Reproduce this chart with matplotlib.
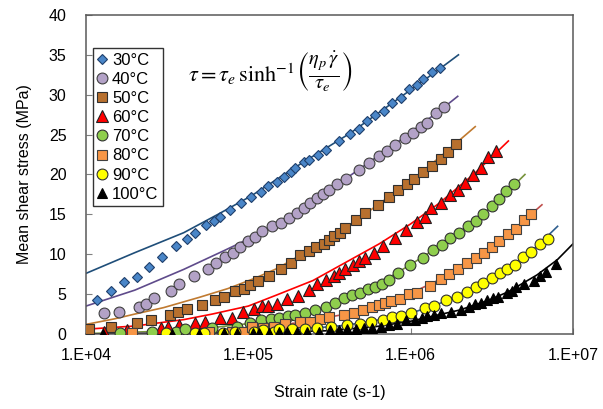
import matplotlib
matplotlib.use("Agg")
import matplotlib.pyplot as plt
from matplotlib.ticker import FixedLocator, NullLocator

plt.rcParams['font.family'] = ['Liberation Sans', 'DejaVu Sans']
plt.rcParams['mathtext.fontset'] = 'stix'

# measured points, strain rate (s-1) vs mean shear stress (MPa)
t30_x = [1.17e4, 1.42e4, 1.72e4, 2.07e4, 2.43e4, 2.96e4, 3.58e4, 4.19e4, 4.71e4, 5.48e4,
         6.11e4, 6.65e4, 7.74e4, 9.06e4, 1.04e5, 1.19e5, 1.33e5, 1.50e5, 1.65e5, 1.82e5,
         1.95e5, 2.19e5, 2.36e5, 2.68e5, 2.99e5, 3.61e5, 4.26e5, 4.80e5, 5.41e5, 6.03e5,
         6.85e5, 7.71e5, 8.67e5, 9.72e5, 1.09e6, 1.20e6, 1.36e6, 1.52e6]
t30_y = [4.3, 5.4, 6.5, 7.2, 8.4, 9.6, 11.0, 11.9, 12.6, 13.7,
         14.2, 14.7, 15.6, 16.4, 17.2, 17.8, 18.5, 19.1, 19.7, 20.3,
         20.8, 21.6, 21.8, 22.4, 23.1, 24.2, 25.1, 25.7, 26.7, 27.4,
         28.0, 28.9, 29.6, 30.7, 31.2, 32.0, 32.8, 33.4]

t40_x = [1.29e4, 1.60e4, 2.12e4, 2.33e4, 2.63e4, 3.35e4, 3.75e4, 4.66e4, 5.63e4, 6.31e4,
         7.14e4, 8.0e4, 8.93e4, 1.0e5, 1.10e5, 1.21e5, 1.40e5, 1.58e5, 1.77e5, 2.0e5,
         2.19e5, 2.41e5, 2.66e5, 2.87e5, 3.12e5, 3.5e5, 3.97e5, 4.8e5, 5.52e5, 6.36e5,
         7.16e5, 8.05e5, 9.2e5, 1.04e6, 1.16e6, 1.27e6, 1.44e6, 1.61e6]
t40_y = [2.6, 2.8, 3.35, 3.8, 4.5, 5.4, 6.3, 7.3, 8.1, 8.9,
         9.6, 10.2, 10.9, 11.6, 12.2, 12.9, 13.5, 13.9, 14.5, 15.2,
         15.8, 16.4, 17.0, 17.5, 18.1, 18.8, 19.4, 20.6, 21.4, 22.3,
         23.0, 23.7, 24.6, 25.2, 26.0, 26.4, 27.7, 28.4]

t50_x = [1.04e4, 1.42e4, 2.05e4, 2.51e4, 3.27e4, 3.68e4, 4.19e4, 5.18e4, 6.25e4, 7.04e4,
         8.32e4, 9.36e4, 1.03e5, 1.15e5, 1.35e5, 1.58e5, 1.84e5, 2.09e5, 2.36e5, 2.63e5,
         2.92e5, 3.13e5, 3.36e5, 3.66e5, 3.92e5, 4.58e5, 5.27e5, 6.32e5, 7.35e5, 8.35e5,
         9.45e5, 1.05e6, 1.20e6, 1.36e6, 1.53e6, 1.69e6, 1.90e6]
t50_y = [0.6, 0.9, 1.4, 1.8, 2.4, 2.8, 3.1, 3.6, 4.3, 4.6,
         5.4, 5.7, 6.2, 6.7, 7.3, 8.2, 8.9, 9.9, 10.4, 10.9,
         11.3, 11.8, 12.3, 12.7, 13.3, 14.3, 15.2, 16.2, 17.2, 18.1,
         18.8, 19.4, 20.3, 21.1, 22.0, 22.8, 23.8]

t60_x = [1.29e4, 1.8e4, 2.9e4, 3.18e4, 3.76e4, 4.7e4, 5.42e4, 6.7e4, 7.9e4, 9.27e4,
         1.08e5, 1.21e5, 1.32e5, 1.50e5, 1.73e5, 2.03e5, 2.36e5, 2.66e5, 2.99e5, 3.36e5,
         3.6e5, 3.92e5, 4.4e5, 4.8e5, 5.2e5, 5.93e5, 6.75e5, 8.0e5, 9.3e5, 1.09e6,
         1.22e6, 1.33e6, 1.53e6, 1.75e6, 1.95e6, 2.15e6, 2.42e6, 2.7e6, 3.0e6, 3.35e6]
t60_y = [0.3, 0.5, 0.7, 0.9, 1.1, 1.4, 1.55, 2.0, 2.05, 2.7,
         3.1, 3.5, 3.5, 3.8, 4.4, 4.8, 5.5, 6.3, 6.8, 7.3,
         7.7, 8.1, 8.7, 9.1, 9.5, 10.2, 11.0, 12.0, 13.0, 14.0,
         14.7, 15.8, 16.4, 17.4, 18.0, 18.9, 19.9, 20.8, 22.2, 22.9]

t70_x = [1.61e4, 2.54e4, 3.59e4, 4.08e4, 5.97e4, 8.51e4, 1.03e5, 1.19e5, 1.37e5, 1.54e5,
         1.75e5, 1.93e5, 2.22e5, 2.59e5, 2.99e5, 3.4e5, 3.86e5, 4.34e5, 4.9e5, 5.5e5,
         6.06e5, 6.66e5, 7.35e5, 8.4e5, 9.95e5, 1.2e6, 1.37e6, 1.57e6, 1.74e6, 1.98e6,
         2.26e6, 2.54e6, 2.8e6, 3.16e6, 3.5e6, 3.88e6, 4.35e6]
t70_y = [0.15, 0.3, 0.3, 0.6, 0.8, 0.9, 1.4, 1.8, 1.85, 2.0,
         2.2, 2.4, 2.6, 3.0, 3.4, 3.9, 4.5, 4.9, 5.1, 5.6,
         5.9, 6.3, 6.8, 7.6, 8.7, 9.5, 10.5, 11.2, 12.0, 12.7,
         13.5, 14.2, 15.0, 16.0, 16.9, 17.9, 18.8]

t80_x = [1.91e4, 5.69e4, 7.93e4, 9.36e4, 1.06e5, 1.24e5, 1.43e5, 1.69e5, 2.09e5, 2.41e5,
         2.75e5, 3.13e5, 3.86e5, 4.46e5, 5.1e5, 5.78e5, 6.36e5, 6.96e5, 7.55e5, 8.6e5,
         9.8e5, 1.1e6, 1.31e6, 1.53e6, 1.72e6, 1.96e6, 2.24e6, 2.53e6, 2.85e6, 3.17e6,
         3.52e6, 3.97e6, 4.43e6, 4.96e6, 5.55e6]
t80_y = [0.1, 0.2, 0.3, 0.3, 0.9, 0.8, 0.9, 1.2, 1.5, 1.55,
         1.85, 2.1, 2.4, 2.6, 3.0, 3.35, 3.6, 3.9, 4.1, 4.4,
         5.0, 5.1, 6.0, 6.9, 7.5, 8.1, 8.9, 9.5, 10.2, 10.9,
         11.7, 12.5, 13.2, 14.3, 15.0]

t90_x = [3.12e4, 4.71e4, 5.3e4, 6.98e4, 8.32e4, 1.08e5, 1.24e5, 1.43e5, 1.54e5, 1.86e5,
         2.23e5, 2.66e5, 3.25e5, 4.07e5, 4.91e5, 5.66e5, 6.75e5, 7.71e5, 8.67e5, 1.0e6,
         1.23e6, 1.39e6, 1.64e6, 1.94e6, 2.21e6, 2.52e6, 2.79e6, 3.16e6, 3.56e6, 3.95e6,
         4.4e6, 4.89e6, 5.5e6, 6.26e6, 6.98e6]
t90_y = [0.1, 0.1, 0.1, 0.1, 0.2, 0.2, 0.5, 0.3, 0.6, 0.6,
         0.6, 0.7, 0.9, 1.1, 1.3, 1.5, 1.8, 2.1, 2.3, 2.6,
         3.2, 3.5, 4.2, 4.7, 5.3, 5.9, 6.4, 7.0, 7.6, 8.1,
         8.7, 9.7, 10.3, 11.3, 11.9]

t100_x = [1.27e4, 3.38e4, 4.99e4, 7.04e4, 8.51e4, 1.07e5, 1.17e5, 1.35e5, 1.55e5, 1.73e5,
          2.0e5, 2.30e5, 2.72e5, 3.18e5, 3.6e5, 4.07e5, 4.6e5, 5.15e5, 5.8e5, 6.53e5,
          7.4e5, 8.28e5, 9.31e5, 1.07e6, 1.17e6, 1.27e6, 1.4e6, 1.53e6, 1.77e6, 2.04e6,
          2.29e6, 2.5e6, 2.70e6, 2.97e6, 3.2e6, 3.43e6, 3.95e6, 4.2e6, 4.45e6, 5.0e6,
          5.77e6, 6.3e6, 6.81e6, 7.85e6]
t100_y = [0.05, 0.05, 0.05, 0.1, 0.1, 0.1, 0.1, 0.15, 0.2, 0.3,
          0.25, 0.3, 0.3, 0.5, 0.5, 0.6, 0.6, 0.7, 0.8, 0.9,
          1.1, 1.3, 1.7, 1.8, 2.0, 2.2, 2.4, 2.6, 2.8, 3.0,
          3.4, 3.7, 3.9, 4.3, 4.5, 4.7, 5.1, 5.4, 5.9, 6.3,
          6.7, 7.3, 7.8, 8.8]

# fitted curves
fit30_x = [1e4, 2e4, 4e4, 6.5e4, 1.04e5, 2.09e5, 4.26e5, 8.67e5, 1.5e6, 1.97e6]
fit30_y = [7.6, 10.2, 12.7, 15.0, 17.3, 21.3, 25.2, 29.7, 33.2, 35.0]
fit40_x = [1e4, 2e4, 4e4, 7e4, 1.1e5, 2e5, 4e5, 8e5, 1.6e6, 1.95e6]
fit40_y = [3.5, 5.5, 8.1, 10.4, 12.3, 15.3, 19.5, 23.8, 28.4, 29.8]
fit50_x = [1e4, 1.5e4, 2e4, 3e4, 5e4, 7.5e4, 1.1e5, 1.5e5, 2.1e5, 3.1e5, 4.6e5, 7e5, 1.05e6, 1.6e6, 2.5e6]
fit50_y = [1.2, 1.9, 2.5, 3.3, 4.6, 5.7, 7.0, 8.2, 9.9, 11.8, 14.2, 16.9, 19.5, 22.6, 26.0]
fit60_x = [1e4, 2e4, 4e4, 6e4, 1e5, 1.5e5, 2.5e5, 4e5, 6.4e5, 1e6, 1.5e6, 2.5e6, 4e6]
fit60_y = [0.6, 1.0, 1.8, 2.5, 3.5, 4.9, 6.7, 9.0, 11.3, 13.8, 16.4, 20.2, 24.2]
fit70_x = [1e4, 3e4, 6e4, 1e5, 1.5e5, 2.5e5, 4e5, 6e5, 1e6, 1.5e6, 2.5e6, 3.5e6, 5.06e6]
fit70_y = [0.05, 0.35, 0.8, 1.3, 1.9, 2.9, 4.6, 6.0, 8.7, 11.0, 14.2, 16.8, 20.0]
fit80_x = [1e4, 3e4, 6e4, 1e5, 2e5, 4e5, 7e5, 1e6, 1.5e6, 2.5e6, 4e6, 6.44e6]
fit80_y = [0.0, 0.1, 0.3, 0.7, 1.4, 2.5, 3.9, 5.1, 6.8, 9.4, 12.5, 16.2]
fit90_x = [1e4, 1e5, 2e5, 4e5, 7e5, 1e6, 1.5e6, 2.5e6, 4e6, 6e6, 8.04e6]
fit90_y = [0.0, 0.2, 0.55, 1.1, 1.9, 2.6, 3.8, 5.9, 8.2, 11.0, 13.5]
fit100_x = [1e4, 1e5, 3e5, 6e5, 1e6, 2e6, 3e6, 4e6, 6e6, 8e6, 1e7]
fit100_y = [0.0, 0.1, 0.4, 0.9, 1.6, 3.0, 4.2, 5.3, 7.4, 9.3, 11.3]

labels = ["30°C", "40°C", "50°C", "60°C", "70°C", "80°C", "90°C", "100°C"]
xtick_vals = [1e4, 1e5, 1e6, 1e7]
xtick_labels = ["1.E+04", "1.E+05", "1.E+06", "1.E+07"]

series = [
    (t30_x, t30_y, fit30_x, fit30_y, 'D', 5.0, '#4a86c8', '#1f3f6b', '#1f4e79'),
    (t40_x, t40_y, fit40_x, fit40_y, 'o', 7.8, '#b3a2c7', '#404040', '#5f4b8b'),
    (t50_x, t50_y, fit50_x, fit50_y, 's', 6.6, '#b8702e', '#303030', '#c07a30'),
    (t60_x, t60_y, fit60_x, fit60_y, '^', 8.0, '#ff0000', '#202020', '#ff0000'),
    (t70_x, t70_y, fit70_x, fit70_y, 'o', 7.8, '#8fce4d', '#303030', '#77933c'),
    (t80_x, t80_y, fit80_x, fit80_y, 's', 6.6, '#f79646', '#404040', '#c0504d'),
    (t90_x, t90_y, fit90_x, fit90_y, 'o', 7.8, '#ffff00', '#303030', '#2f5f8f'),
    (t100_x, t100_y, fit100_x, fit100_y, '^', 7.6, '#000000', '#000000', '#000000'),
]

fig = plt.figure(figsize=(6.03, 4.09), dpi=100)
ax = fig.add_axes([0.1426, 0.1834, 0.8076, 0.78])

handles = []
for (dx, dy, fx, fy, mk, ms, fc, ec, lc), lab in zip(series, labels):
    ax.plot(fx, fy, color=lc, lw=1.2, zorder=2)
    h, = ax.plot(dx, dy, linestyle='none', marker=mk, markersize=ms,
                 markerfacecolor=fc, markeredgecolor=ec, markeredgewidth=0.8,
                 zorder=3, label=lab)
    handles.append(h)

ax.set_xscale('log')
ax.set_xlim(1e4, 1e7)
ax.set_ylim(0, 40)
ax.xaxis.set_major_locator(FixedLocator(xtick_vals))
ax.xaxis.set_minor_locator(NullLocator())
ax.set_xticklabels(xtick_labels)
ax.set_yticks(range(0, 41, 5))
ax.tick_params(direction='in', length=4, width=0.8, color='#808080', labelsize=11.5)
ax.tick_params(axis='y', pad=14)
ax.tick_params(axis='x', pad=10)
for s in ax.spines.values():
    s.set_color('#595959')
    s.set_linewidth(1.1)

ax.set_xlabel("Strain rate (s-1)", fontsize=11.5, labelpad=16)
ax.set_ylabel("Mean shear stress (MPa)", fontsize=11.5, labelpad=12)

leg = ax.legend(handles=handles, loc='upper left', bbox_to_anchor=(0.014, 0.895),
                borderaxespad=0, fontsize=12, frameon=True, fancybox=False,
                handlelength=0.6, handletextpad=0.3, labelspacing=0.25,
                borderpad=0.25, edgecolor='#000000')
leg.get_frame().set_linewidth(1.0)

# equation drawn in two parts so the fraction keeps a full size
ax.text(0.428, 0.79, r'$\tau = \tau_e\,\sinh^{-1}$',
        transform=ax.transAxes, fontsize=16, ha='right', va='baseline')
ax.text(0.431, 0.79, r'$\left(\frac{\eta_p\,\dot{\gamma}}{\tau_e}\right)$',
        transform=ax.transAxes, fontsize=21, ha='left', va='baseline')

fig.savefig("out.png", dpi=100)
